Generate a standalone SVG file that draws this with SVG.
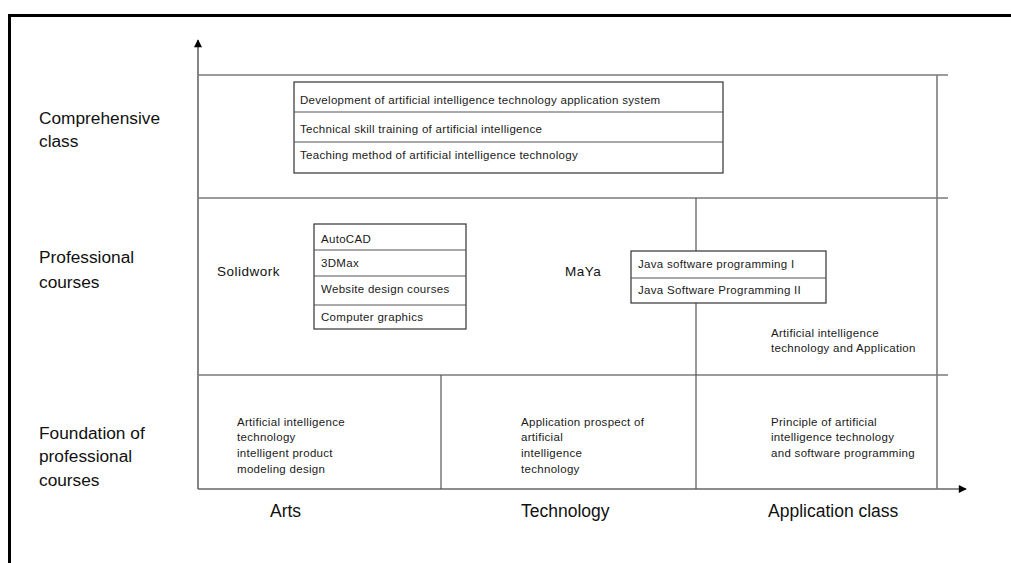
<svg xmlns="http://www.w3.org/2000/svg" width="1011" height="563" viewBox="0 0 1011 563">
<defs>
<marker id="ah" viewBox="0 0 10 10" refX="9" refY="5" markerWidth="9" markerHeight="8" orient="auto" markerUnits="userSpaceOnUse">
<path d="M0,0 L10,5 L0,10 z" fill="#000"/>
</marker>
<style>
.frame{stroke:#000;stroke-width:3;fill:none}
.grid{stroke:#7a7a7a;stroke-width:1.6;fill:none}
.div{stroke:#555;stroke-width:1.2;fill:none}
.axis{stroke:#666;stroke-width:1.6;fill:none}
.box{stroke:#333;stroke-width:1.2;fill:#fff}
.sm{font-family:"Liberation Sans",Arial,sans-serif;font-size:11.5px;letter-spacing:0.3px;fill:#1a1a1a}
.lbl{font-family:"Liberation Sans",Arial,sans-serif;font-size:17.3px;fill:#111}
.ax{font-family:"Liberation Sans",Arial,sans-serif;font-size:17.5px;fill:#111}
.mid{font-family:"Liberation Sans",Arial,sans-serif;font-size:13.5px;letter-spacing:0.5px;fill:#111}
</style>
</defs>
<rect width="1011" height="563" fill="#fff"/>
<path class="frame" d="M9.5,563 L9.5,15.5 L1011,15.5"/>
<g id="connectors">
<line class="axis" x1="198" y1="489" x2="198" y2="40" marker-end="url(#ah)"/>
<line class="axis" x1="198" y1="489" x2="966" y2="489" marker-end="url(#ah)"/>
<line class="grid" x1="198" y1="75" x2="948" y2="75"/>
<line class="grid" x1="198" y1="198" x2="948" y2="198"/>
<line class="grid" x1="198" y1="375" x2="948" y2="375"/>
<line class="grid" x1="937" y1="75" x2="937" y2="489"/>
<line class="div" x1="441" y1="375" x2="441" y2="489"/>
<line class="div" x1="696" y1="198" x2="696" y2="489"/>
</g>
<g id="axis-labels">
<text class="lbl" x="39" y="124">Comprehensive</text>
<text class="lbl" x="39" y="147">class</text>
<text class="lbl" x="39" y="263">Professional</text>
<text class="lbl" x="39" y="288">courses</text>
<text class="lbl" x="39" y="439">Foundation of</text>
<text class="lbl" x="39" y="462">professional</text>
<text class="lbl" x="39" y="486">courses</text>
<text class="ax" x="270" y="517">Arts</text>
<text class="ax" x="521" y="517">Technology</text>
<text class="ax" x="768" y="517">Application class</text>
</g>
<g id="comprehensive-box">
<rect class="box" x="294" y="82" width="429" height="91"/>
<line class="div" x1="294" y1="112" x2="723" y2="112"/>
<line class="div" x1="294" y1="142" x2="723" y2="142"/>
<text class="sm" x="300" y="104">Development of artificial intelligence technology application system</text>
<text class="sm" x="300" y="133">Technical skill training of artificial intelligence</text>
<text class="sm" x="300" y="159">Teaching method of artificial intelligence technology</text>
</g>
<g id="solidwork">
<text class="mid" x="217" y="276">Solidwork</text>
</g>
<g id="design-box">
<rect class="box" x="314" y="224" width="152" height="105"/>
<line class="div" x1="314" y1="250" x2="466" y2="250"/>
<line class="div" x1="314" y1="276" x2="466" y2="276"/>
<line class="div" x1="314" y1="305" x2="466" y2="305"/>
<text class="sm" x="321" y="243">AutoCAD</text>
<text class="sm" x="321" y="267">3DMax</text>
<text class="sm" x="321" y="293">Website design courses</text>
<text class="sm" x="321" y="321">Computer graphics</text>
</g>
<g id="maya">
<text class="mid" x="565" y="276">MaYa</text>
</g>
<g id="java-box">
<rect class="box" x="631" y="251" width="195" height="52"/>
<line class="div" x1="631" y1="278" x2="826" y2="278"/>
<text class="sm" x="638" y="268">Java software programming I</text>
<text class="sm" x="638" y="294">Java Software Programming II</text>
</g>
<g id="ai-application">
<text class="sm" x="771" y="337">Artificial intelligence</text>
<text class="sm" x="771" y="352">technology and Application</text>
</g>
<g id="arts-foundation">
<text class="sm" x="237" y="426">Artificial intelligence</text>
<text class="sm" x="237" y="441">technology</text>
<text class="sm" x="237" y="457">intelligent product</text>
<text class="sm" x="237" y="473">modeling design</text>
</g>
<g id="tech-foundation">
<text class="sm" x="521" y="426">Application prospect of</text>
<text class="sm" x="521" y="441">artificial</text>
<text class="sm" x="521" y="457"> intelligence</text>
<text class="sm" x="521" y="473">technology</text>
</g>
<g id="app-foundation">
<text class="sm" x="771" y="426">Principle of artificial</text>
<text class="sm" x="771" y="441">intelligence technology</text>
<text class="sm" x="771" y="457">and software programming</text>
</g>
</svg>
